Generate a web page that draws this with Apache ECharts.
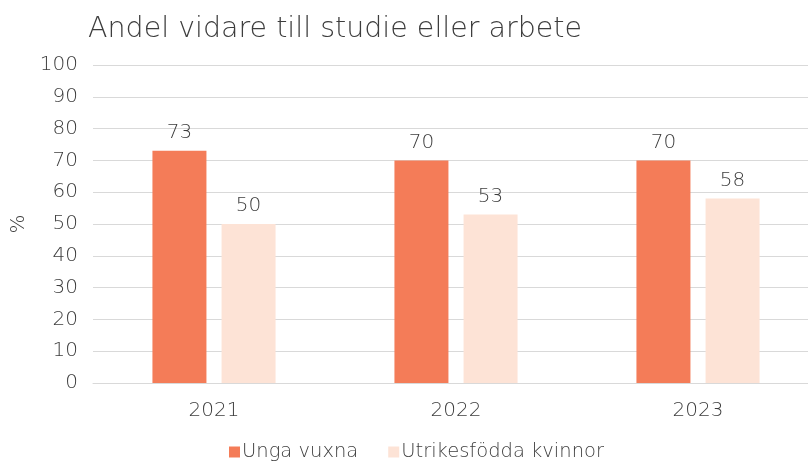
<!DOCTYPE html>
<html>
<head>
<meta charset="utf-8">
<script src="https://cdn.jsdelivr.net/npm/echarts@6/dist/echarts.min.js"></script>
<style>
html,body{margin:0;padding:0;background:#fff;}
#chart{width:808px;height:461px;}
</style>
</head>
<body>
<div id="chart"></div>
<script>
// data
var years = ['2021', '2022', '2023'];
var ungaVuxna = [73, 70, 70];
var utrikesfodda = [50, 53, 58];
var seriesNames = ['Unga vuxna', 'Utrikesfödda kvinnor'];

var chart = echarts.init(document.getElementById('chart'));
var textGrey = '#3d3d3d';
var font = '"DejaVu Sans"';

var option = {
	animation: false,
	title: {
		text: 'Andel vidare till studie eller arbete',
		left: 83,
		top: 10,
		textStyle: {fontFamily: font, fontWeight: 200, fontSize: 28.5, color: textGrey}
	},
	legend: {
		data: seriesNames,
		top: 437,
		left: 224,
		itemWidth: 11,
		itemHeight: 11,
		itemGap: 30,
		icon: 'rect',
		textStyle: {fontFamily: font, fontWeight: 200, fontSize: 19.5, color: textGrey, padding: [0, 0, 0, -3]}
	},
	grid: {left: 93, width: 726, top: 65, bottom: 78, outerBoundsMode: 'none'},
	xAxis: {
		type: 'category',
		data: years,
		axisTick: {show: false},
		axisLine: {lineStyle: {color: '#d9d9d9'}},
		axisLabel: {fontFamily: font, fontWeight: 200, fontSize: 20, color: textGrey, margin: 18}
	},
	yAxis: {
		type: 'value',
		min: 0,
		max: 100,
		interval: 10,
		name: '%',
		nameLocation: 'middle',
		nameGap: 64,
		nameTextStyle: {fontFamily: font, fontWeight: 200, fontSize: 20, color: textGrey},
		axisLabel: {fontFamily: font, fontWeight: 200, fontSize: 20, color: textGrey, margin: 15},
		splitLine: {lineStyle: {color: '#d9d9d9'}}
	},
	series: [{
		name: seriesNames[0],
		type: 'bar',
		data: ungaVuxna,
		barWidth: 54,
		barGap: '28%',
		itemStyle: {color: '#F47C58'},
		label: {show: true, position: 'top', distance: 8, fontFamily: font, fontWeight: 200, fontSize: 20, color: textGrey}
	}, {
		name: seriesNames[1],
		type: 'bar',
		data: utrikesfodda,
		barWidth: 54,
		itemStyle: {color: '#FDE3D6'},
		label: {show: true, position: 'top', distance: 8, fontFamily: font, fontWeight: 200, fontSize: 20, color: textGrey}
	}]
};

chart.setOption(option);
</script>
</body>
</html>
